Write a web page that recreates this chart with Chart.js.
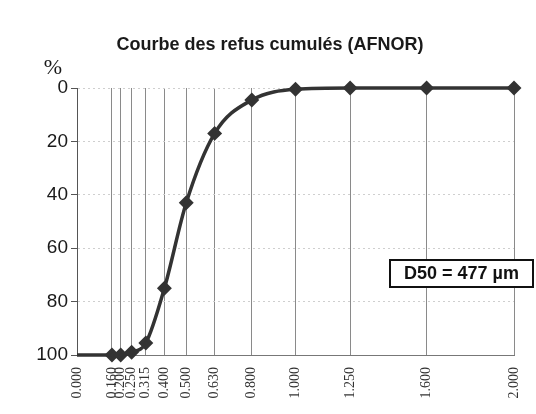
<!DOCTYPE html>
<html>
<head>
<meta charset="utf-8">
<script src="https://cdn.jsdelivr.net/npm/chart.js@4"></script>
<style>
  html, body { margin: 0; padding: 0; background: #fff; }
  #wrap { width: 536px; height: 414px; }
</style>
</head>
<body>
<div id="wrap"><canvas id="refusChart" width="536" height="414"></canvas></div>
<script>
// tamis (mm) et refus cumulés (%)
const sieves = [0.000, 0.160, 0.200, 0.250, 0.315, 0.400, 0.500, 0.630, 0.800, 1.000, 1.250, 1.600, 2.000];
const refus  = [100, 100, 100, 99, 95.5, 75, 43, 17, 4.5, 0.5, 0, 0, 0];
const yTicks = [0, 20, 40, 60, 80, 100];
const titleText = 'Courbe des refus cumulés (AFNOR)';
const d50Text = 'D50 = 477 µm';

const ctx = document.getElementById('refusChart').getContext('2d');

// titre, "%" et encadré D50
const extras = {
  id: 'extras',
  afterDraw(chart) {
    const c = chart.ctx;
    c.save();
    c.fillStyle = '#1a1a1a';
    c.font = 'bold 18px "Liberation Sans", Arial, sans-serif';
    c.textAlign = 'center';
    c.textBaseline = 'middle';
    c.fillText(titleText, 270, 45);

    c.font = '22px "Liberation Serif", "Times New Roman", serif';
    c.fillText('%', 53, 68);

    c.fillStyle = '#fff';
    c.fillRect(390, 260, 143, 27);
    c.strokeStyle = '#111';
    c.lineWidth = 2;
    c.strokeRect(390, 260, 143, 27);
    c.fillStyle = '#111';
    c.font = 'bold 18px "Liberation Sans", Arial, sans-serif';
    c.textAlign = 'center';
    c.fillText(d50Text, 461.5, 274);
    c.restore();
  }
};

new Chart(ctx, {
  type: 'line',
  data: {
    datasets: [{
      data: sieves.map((s, i) => ({ x: s, y: refus[i] })),
      borderColor: '#333',
      backgroundColor: '#333',
      borderWidth: 3.5,
      cubicInterpolationMode: 'monotone',
      pointStyle: 'rectRot',
      pointRadius: sieves.map(s => (s === 0 ? 0 : 5)),
      pointHoverRadius: 5,
      fill: false,
      clip: false
    }]
  },
  options: {
    responsive: false,
    animation: false,
    layout: { padding: { left: 0, right: 22, top: 88, bottom: 0 } },
    plugins: {
      legend: { display: false },
      tooltip: { enabled: false }
    },
    scales: {
      x: {
        type: 'linear',
        min: 0,
        max: 2,
        afterBuildTicks: scale => { scale.ticks = sieves.map(v => ({ value: v })); },
        afterFit: scale => {
          scale.height = 59;
          scale.paddingLeft = 0;
          scale.paddingRight = 0;
        },
        ticks: {
          autoSkip: false,
          maxRotation: 90,
          minRotation: 90,
          padding: 12,
          color: '#333',
          font: { family: '"Liberation Serif", "Times New Roman", serif', size: 14 },
          callback: v => Number(v).toFixed(3)
        },
        grid: { color: '#8a8a8a', lineWidth: 1, drawTicks: false },
        border: { color: '#777', width: 1 }
      },
      y: {
        reverse: true,
        min: 0,
        max: 100,
        afterBuildTicks: scale => { scale.ticks = yTicks.map(v => ({ value: v })); },
        afterFit: scale => { scale.width = 77; },
        ticks: {
          padding: 3,
          color: '#1a1a1a',
          font: { family: '"Liberation Sans", Arial, sans-serif', size: 19 }
        },
        grid: { color: '#cfcfcf', lineWidth: 1, tickLength: 6, tickColor: '#555' },
        border: { color: '#555', width: 1, dash: [2, 3] }
      }
    }
  },
  plugins: [extras]
});
</script>
</body>
</html>
